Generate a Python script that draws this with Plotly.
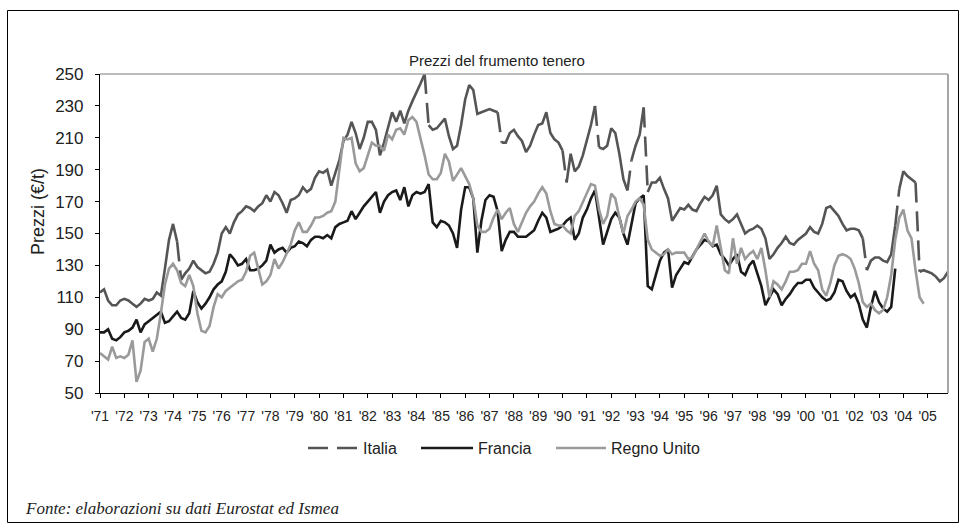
import math
import plotly.graph_objects as go

# ---------------- data (bimonthly readings, Jan 1971 onwards) ----------------
years = list(range(1971, 2006))
tick_labels = ["'" + str(y)[2:] for y in years]
series_names = ["Italia", "Francia", "Regno Unito"]

italia = [
    113, 115, 108, 105, 105, 108,   # 1971
    109, 108, 106, 104, 106, 109,   # 1972
    108, 109, 113, 111, 128, 146,   # 1973
    156, 145, 121, 125, 128, 133,   # 1974
    129, 127, 125, 126, 131, 138,   # 1975
    150, 154, 150, 157, 162, 164,   # 1976
    167, 166, 164, 167, 169, 174,   # 1977
    170, 176, 174, 169, 163, 171,   # 1978
    172, 174, 179, 176, 178, 185,   # 1979
    189, 188, 190, 180, 188, 196,   # 1980
    208, 212, 220, 213, 203, 210,   # 1981
    220, 220, 215, 199, 207, 216,   # 1982
    226, 220, 227, 219, 227, 233,   # 1983
    238, 244, 250, 218, 215, 216,   # 1984
    219, 222, 211, 203, 205, 218,   # 1985
    234, 243, 240, 225, 226, 227,   # 1986
    228, 227, 226, 207, 207, 213,   # 1987
    215, 211, 208, 201, 205, 212,   # 1988
    218, 219, 226, 213, 209, 207,   # 1989
    202, 182, 200, 189, 192, 199,   # 1990
    208, 218, 230, 204, 203, 205,   # 1991
    216, 213, 200, 184, 177, 196,   # 1992
    205, 212, 229, 176, 182, 182,   # 1993
    185, 178, 172, 158, 162, 166,   # 1994
    165, 168, 165, 164, 169, 173,   # 1995
    171, 174, 180, 162, 159, 157,   # 1996
    159, 162, 156, 150, 152, 153,   # 1997
    155, 153, 147, 134, 137, 141,   # 1998
    144, 148, 144, 143, 146, 148,   # 1999
    150, 154, 151, 150, 156, 166,   # 2000
    167, 164, 161, 156, 152, 153,   # 2001
    153, 152, 147, 127, 133, 135,   # 2002
    135, 133, 132, 137, 155, 178,   # 2003
    189, 186, 184, 182, 126, 127,   # 2004
    126, 125, 123, 120, 122, 126,   # 2005
]

francia = [
    88, 88, 90, 84, 83, 85,         # 1971
    88, 89, 91, 96, 88, 93,         # 1972
    95, 97, 99, 101, 94, 95,        # 1973
    98, 101, 97, 96, 100, 114,      # 1974
    107, 103, 106, 110, 115, 118,   # 1975
    120, 126, 137, 134, 130, 131,   # 1976
    134, 127, 127, 128, 130, 133,   # 1977
    143, 138, 140, 141, 138, 141,   # 1978
    142, 145, 144, 142, 146, 148,   # 1979
    148, 147, 149, 147, 154, 156,   # 1980
    157, 158, 164, 159, 163, 167,   # 1981
    170, 173, 176, 163, 170, 174,   # 1982
    176, 177, 171, 179, 167, 174,   # 1983
    176, 175, 176, 181, 157, 154,   # 1984
    158, 157, 155, 150, 141, 165,   # 1985
    179, 179, 172, 138, 158, 171,   # 1986
    174, 173, 164, 139, 146, 151,   # 1987
    151, 148, 148, 148, 150, 152,   # 1988
    158, 163, 160, 151, 152, 153,   # 1989
    155, 158, 160, 146, 150, 160,   # 1990
    165, 172, 177, 161, 143, 151,   # 1991
    159, 163, 160, 150, 143, 156,   # 1992
    169, 172, 174, 117, 115, 124,   # 1993
    133, 138, 140, 116, 124, 128,   # 1994
    132, 131, 136, 140, 143, 146,   # 1995
    145, 142, 143, 137, 134, 130,   # 1996
    134, 137, 126, 124, 130, 133,   # 1997
    125, 117, 105, 110, 115, 112,   # 1998
    105, 109, 112, 116, 119, 119,   # 1999
    121, 121, 116, 113, 110, 108,   # 2000
    109, 113, 121, 120, 114, 110,   # 2001
    112, 106, 96, 91, 104, 114,     # 2002
    107, 103, 101, 104, 128,        # 2003
]

regno_unito = [
    75, 73, 71, 79, 72, 73,         # 1971
    72, 74, 83, 57, 64, 82,         # 1972
    84, 76, 84, 100, 118, 128,      # 1973
    131, 127, 119, 117, 124, 117,   # 1974
    100, 89, 88, 92, 104, 112,      # 1975
    110, 114, 116, 118, 120, 121,   # 1976
    126, 136, 138, 128, 118, 120,   # 1977
    124, 134, 128, 132, 137, 143,   # 1978
    152, 157, 151, 151, 155, 160,   # 1979
    160, 161, 163, 164, 170, 192,   # 1980
    210, 209, 210, 194, 189, 191,   # 1981
    199, 207, 205, 205, 202, 212,   # 1982
    209, 215, 216, 212, 221, 223,   # 1983
    220, 210, 199, 187, 184, 184,   # 1984
    188, 200, 195, 183, 187, 191,   # 1985
    186, 181, 172, 155, 151, 151,   # 1986
    153, 160, 165, 159, 163, 166,   # 1987
    156, 151, 157, 163, 167, 170,   # 1988
    175, 179, 175, 164, 156, 155,   # 1989
    155, 152, 150, 161, 164, 170,   # 1990
    176, 181, 180, 165, 156, 161,   # 1991
    175, 172, 160, 150, 161, 165,   # 1992
    170, 172, 168, 146, 140, 138,   # 1993
    136, 137, 140, 137, 138, 138,   # 1994
    138, 134, 135, 140, 145, 150,   # 1995
    145, 142, 155, 140, 127, 125,   # 1996
    147, 131, 141, 134, 137, 139,   # 1997
    134, 141, 127, 110, 120, 118,   # 1998
    115, 120, 126, 126, 127, 131,   # 1999
    131, 139, 131, 127, 115, 111,   # 2000
    119, 130, 136, 137, 136, 134,   # 2001
    128, 119, 107, 104, 106, 102,   # 2002
    100, 102, 110, 124, 146, 160,   # 2003
    165, 152, 147, 127, 110, 106,   # 2004
]

# ---------------- helpers ----------------
def times(n):
    return [1971 + i / 6 for i in range(n)]

W, H = 966, 528
L, R, T, B = 100, 18, 74, 135
plot_w, plot_h = W - L - R, H - T - B
x_start, x_end = 1971, 1971 + (len(italia) - 1) / 6
y_min, y_max = 50, 250
px_x = plot_w / (x_end - x_start)
px_y = plot_h / (y_max - y_min)

DASH_ON, DASH_OFF = 20, 9
dash_pattern = f"{DASH_ON}px,{DASH_OFF}px"
LONG_SEGMENT = 30  # px: a two-month step longer than this shows a dash gap

# Excel-like dashing: the dash pattern restarts at every segment, so only
# long (steep) segments show gaps.  Split Italia into solid runs and long steps.
tx = times(len(italia))
solid_x, solid_y, long_x, long_y = [], [], [], []
for i in range(len(italia) - 1):
    dx = (tx[i + 1] - tx[i]) * px_x
    dy = (italia[i + 1] - italia[i]) * px_y
    if math.hypot(dx, dy) > LONG_SEGMENT:
        long_x += [tx[i], tx[i + 1], None]
        long_y += [italia[i], italia[i + 1], None]
        solid_x.append(None)
        solid_y.append(None)
    else:
        if not solid_x or solid_x[-1] is None:
            solid_x.append(tx[i])
            solid_y.append(italia[i])
        solid_x.append(tx[i + 1])
        solid_y.append(italia[i + 1])

c_it, c_fr, c_uk = "#555555", "#1a1a1a", "#9a9a9a"
lw = 2.6

fig = go.Figure()
fig.add_trace(go.Scatter(x=solid_x, y=solid_y, mode="lines", name=series_names[0],
                         line=dict(color=c_it, width=lw), showlegend=False,
                         connectgaps=False))
fig.add_trace(go.Scatter(x=long_x, y=long_y, mode="lines", name=series_names[0],
                         line=dict(color=c_it, width=lw, dash=dash_pattern),
                         connectgaps=False, showlegend=False))
fig.add_trace(go.Scatter(x=times(len(francia)), y=francia, mode="lines",
                         name=series_names[1], line=dict(color=c_fr, width=lw),
                         showlegend=False))
fig.add_trace(go.Scatter(x=times(len(regno_unito)), y=regno_unito, mode="lines",
                         name=series_names[2], line=dict(color=c_uk, width=lw),
                         showlegend=False))

font_family = "Liberation Sans, Arial, Helvetica, sans-serif"

def px2paper_x(p):
    return (p - L) / plot_w

def px2paper_y(p):
    return (H - B - p) / plot_h

# ---- custom legend (longer samples than plotly's built-in legend) ----
legend_y = 448
legend_items = [  # (name, colour, dash, sample start, sample end)
    (series_names[0], c_it, dash_pattern, 308, 358),
    (series_names[1], c_fr, "solid", 421, 473),
    (series_names[2], c_uk, "solid", 556, 606),
]
shapes = [
    dict(type="line", xref="paper", yref="paper", x0=0, x1=1, y0=1, y1=1,
         line=dict(color="#a6a6a6", width=1.5)),
    dict(type="line", xref="paper", yref="paper", x0=1, x1=1, y0=0, y1=1,
         line=dict(color="#a6a6a6", width=2)),
    dict(type="rect", xref="paper", yref="paper",
         x0=px2paper_x(7.5), x1=px2paper_x(958.5),
         y0=px2paper_y(522.5), y1=px2paper_y(10.5),
         line=dict(color="black", width=1), fillcolor="rgba(0,0,0,0)"),
]
annotations = [
    dict(text="<i>Fonte: elaborazioni su dati Eurostat ed Ismea</i>",
         xref="paper", yref="paper", x=px2paper_x(23), y=px2paper_y(508),
         xanchor="left", yanchor="middle", showarrow=False,
         font=dict(family="Liberation Serif, Times New Roman, serif", size=17,
                   color="#222222")),
    dict(text="Prezzi (€/t)", textangle=-90, xref="paper", yref="paper",
         x=px2paper_x(38), y=px2paper_y(212), xanchor="center", yanchor="middle",
         showarrow=False, font=dict(size=18, color="#222222")),
]
for name, col, dash, s0, s1 in legend_items:
    shapes.append(dict(type="line", xref="paper", yref="paper",
                       x0=px2paper_x(s0), x1=px2paper_x(s1),
                       y0=px2paper_y(legend_y), y1=px2paper_y(legend_y),
                       line=dict(color=col, width=lw, dash=dash)))
    annotations.append(dict(text=name, xref="paper", yref="paper",
                            x=px2paper_x(s1 + 3), y=px2paper_y(legend_y),
                            xanchor="left", yanchor="middle", showarrow=False,
                            font=dict(size=16, color="#222222")))

fig.update_layout(
    width=W, height=H,
    margin=dict(l=L, r=R, t=T, b=B, pad=0),
    paper_bgcolor="white", plot_bgcolor="white",
    font=dict(family=font_family, color="#222222"),
    title=dict(text="Prezzi del frumento tenero", x=497 / W, xanchor="center",
               y=1 - 61 / H, yanchor="middle", font=dict(size=15, color="#222222")),
    showlegend=False,
    xaxis=dict(range=[x_start, x_end], tickmode="array", tickvals=years,
               ticktext=tick_labels, ticks="outside", ticklen=4, tickwidth=1,
               tickcolor="black", showline=True, linecolor="black", linewidth=1.2,
               showgrid=False, zeroline=False, tickfont=dict(size=14),
               ticklabelstandoff=6),
    yaxis=dict(range=[y_min, y_max], tickmode="array",
               tickvals=list(range(50, 251, 20)), ticks="outside", ticklen=4,
               tickwidth=1, tickcolor="black", showline=True, linecolor="black",
               linewidth=1.2, showgrid=False, zeroline=False,
               tickfont=dict(size=17), ticklabelstandoff=8),
    shapes=shapes,
    annotations=annotations,
)

fig.write_html("out.html", config={"displayModeBar": False},
               post_script="document.body.style.margin='0px';")
